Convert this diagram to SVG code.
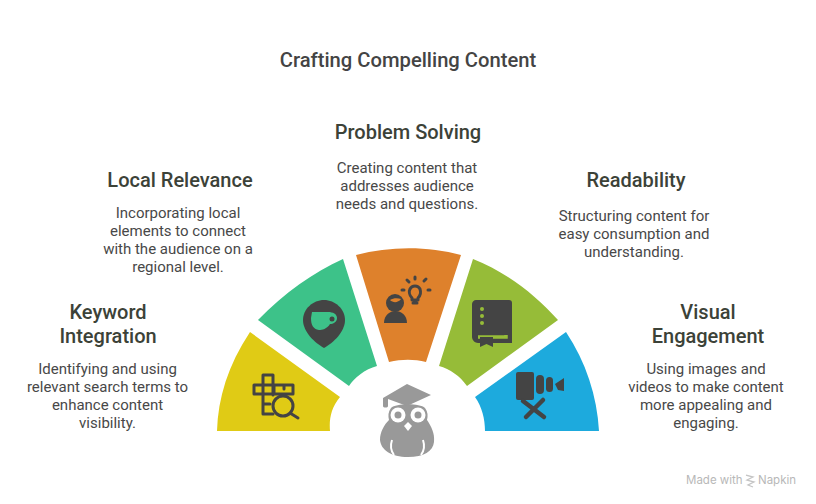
<svg xmlns="http://www.w3.org/2000/svg" width="816" height="504" viewBox="0 0 816 504">
<style>
text{font-family:Roboto,"Liberation Sans",sans-serif}
.t{font-size:20px;font-weight:500;fill:#3c4238;text-anchor:middle}
.d{font-size:15px;fill:#484848;text-anchor:middle}
.i{fill:#444}
.s{fill:none;stroke:#444;stroke-width:3;stroke-linecap:round;stroke-linejoin:round}
.o{fill:#999}
.b{font-size:11.5px;fill:#b8b8b8;font-family:Inter,Roboto,sans-serif}
</style>
<rect width="816" height="504" fill="#fff"/>
<text x="408" y="67" text-anchor="middle" style="font-size:20.2px;font-weight:500;fill:#444">Crafting Compelling Content</text>
<g id="connectors"/>
<g id="keyword">
<path d="M217 431C218 398 228 365 250 332L340 397C331 408 329 419 330 431Z" fill="#e0cb15"/>
<path class="s" d="M263 414V375H273V395M263 385H254V394H293V385H254M263 414H273M263 404H270M284 385V389M274 385V394"/>
<circle cx="283" cy="406" r="10" fill="#e0cb15" stroke="#444" stroke-width="3"/><path class="s" d="M290 413L298 418"/>
<text class="t" x="108" y="319">Keyword</text><text class="t" x="108" y="343">Integration</text>
<text class="d" x="107.500" y="374">Identifying and using</text><text class="d" x="107.500" y="392">relevant search terms to</text><text class="d" x="107.500" y="410">enhance content</text><text class="d" x="107.500" y="428">visibility.</text>
</g>
<g id="local">
<path d="M258 320C284 293 314 272 343 259L377 366C365 369 354 378 349 386Z" fill="#3dc289"/>
<path class="i" d="M324 300C335 300 345 309 345 320C345 332 333 343 324 348C315 343 303 332 303 320C303 309 313 300 324 300Z"/>
<path fill="#3dc289" d="M312 312H328C333 312 337 314 337 318C337 322 333 324 330 324C327 329 322 330 319 330C313 329 311 325 311 318Z"/><circle cx="332" cy="319" r="2.500" fill="#444"/>
<text class="t" x="180" y="187">Local Relevance</text>
<text class="d" x="178" y="218">Incorporating local</text><text class="d" x="178" y="236">elements to connect</text><text class="d" x="178" y="254">with the audience on a</text><text class="d" x="178" y="272">regional level.</text>
</g>
<g id="problem">
<path d="M356 255C390 246 428 246 461 255L426 362C414 359 402 359 389 362Z" fill="#de812c"/>
<circle class="i" cx="395" cy="303" r="9"/><path class="i" d="M384 323C384 315 390 311 395.500 311C401 311 407 315 407 323Z"/>
<path d="M390 300C393 303 398 303 401 299C398 298 393 298 390 300Z" fill="#de812c"/>
<path class="s" d="M412 298C409 295 409 291 410 289C412 285 418 285 420 289C421 292 421 295 418 298V300H412ZM413 303H417M404 290H402M430 290H428M415 277V279M407 280L409 282M426 279L424 281"/>
<text class="t" x="408" y="139">Problem Solving</text>
<text class="d" x="407" y="173">Creating content that</text><text class="d" x="407" y="191">addresses audience</text><text class="d" x="407" y="209">needs and questions.</text>
</g>
<g id="readability">
<path d="M473 259C504 271 534 293 558 320L467 386C460 376 450 369 439 366Z" fill="#96bc38"/>
<path class="i" d="M476 300H509C511 300 512 301 512 303V339V343H478C475 343 472 340 472 337V304C472 302 474 300 476 300Z"/>
<circle cx="482" cy="309" r="2" fill="#96bc38"/><circle cx="482" cy="316" r="2" fill="#96bc38"/><circle cx="482" cy="323" r="2" fill="#96bc38"/>
<path d="M478 337H506V335" fill="none" stroke="#96bc38" stroke-width="3.500"/>
<path class="i" d="M480 337H493V347L486.500 344L480 347Z"/>
<text class="t" x="636" y="187">Readability</text>
<text class="d" x="634" y="220.500">Structuring content for</text><text class="d" x="634" y="238.500">easy consumption and</text><text class="d" x="634" y="256.500">understanding.</text>
</g>
<g id="visual">
<path d="M566 332C586 362 597 396 599 431H485C485 419 482 407 475 397Z" fill="#1daadd"/>
<rect class="i" x="516" y="372" width="18" height="28" rx="2"/><rect class="i" x="536" y="375" width="8" height="19" rx="4"/><rect class="i" x="546" y="377" width="7" height="15" rx="3.500"/>
<path class="i" d="M555 384L564 378V391L558 390Z"/>
<path d="M523 401L544 417M543 400L526 417" fill="none" stroke="#444" stroke-width="4.500" stroke-linecap="round"/>
<text class="t" x="708" y="319">Visual</text><text class="t" x="708" y="343">Engagement</text>
<text class="d" x="706" y="374">Using images and</text><text class="d" x="706" y="392">videos to make content</text><text class="d" x="706" y="410">more appealing and</text><text class="d" x="706" y="428">engaging.</text>
</g>
<g id="owl">
<path class="o" d="M391 408C396 403 420 403 425 408C428 412 428 416 427 420C431 426 435 433 434 442C433 451 424 457 408 457C391 457 381 450 380 440C380 432 384 425 389 420C388 416 388 412 391 408Z"/>
<path class="o" d="M383 398L407 384L431 395L407 406L388 399V406C388 408 383 408 383 406Z"/>
<circle cx="398" cy="415" r="7.500" fill="#fff"/><circle cx="418" cy="415" r="7.500" fill="#fff"/><circle cx="398" cy="415" r="3.500" class="o"/><circle cx="418" cy="415" r="3.500" class="o"/>
<path fill="#fff" d="M404 426L408 422L412 426L408 431Z"/>
<path d="M392 440C390 446 391 451 394 455M423 440C425 446 424 451 421 455" fill="none" stroke="#fff" stroke-width="2"/>
</g>
<g id="brand"><text class="b" x="686" y="484">Made with</text><path d="M746 475L753 477L747 480L754 482L748 485L753 487" fill="none" stroke="#c4c4c4" stroke-width="1.300"/><text class="b" x="758" y="484">Napkin</text></g>
</svg>
